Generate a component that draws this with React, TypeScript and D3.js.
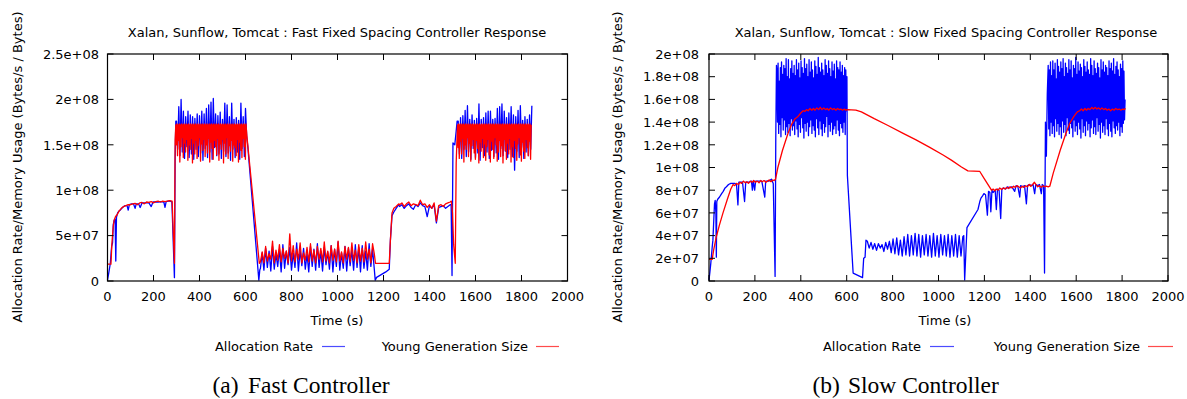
import React from 'react';
import * as d3 from 'd3';

type P = [number, number];

// regularly sampled segment: start time (s), sample interval (s), values (millions)
function seq(t0: number, dt: number, vals: number[]): P[] {
  return vals.map((v, i) => [t0 + i * dt, v] as P);
}

// ---------- axis ticks / labels ----------
const xTicks = [0, 200, 400, 600, 800, 1000, 1200, 1400, 1600, 1800, 2000];
const xTickLabels = ['0', '200', '400', '600', '800', '1000', '1200', '1400', '1600', '1800', '2000'];
const fastYTicks = [0, 50, 100, 150, 200, 250];
const fastYTickLabels = ['0', '5e+07', '1e+08', '1.5e+08', '2e+08', '2.5e+08'];
const slowYTicks = [0, 20, 40, 60, 80, 100, 120, 140, 160, 180, 200];
const slowYTickLabels = ['0', '2e+07', '4e+07', '6e+07', '8e+07', '1e+08', '1.2e+08', '1.4e+08', '1.6e+08', '1.8e+08', '2e+08'];

// ---------- FAST controller: allocation rate (millions of bytes/s) ----------
const fastAllocStart: P[] = [[0,1],[5,8],[12,19],[18,38],[22,42],[25,62],[29,67],[33,68],[36,22],[39,70],[44,75],[50,77],[55,78],[62,80],[70,82],[77,83],[85,83],[90,78],[95,84],[105,85],[113,85],[120,80],[125,85],[135,85],[142,81],[150,86],[160,86],[171,86],[180,86],[190,82],[198,87],[210,87],[220,87],[230,87.5],[245,87],[250,81],[255,87.5],[265,88],[273,88],[280,87],[291,3.7],[294,133],[297,176]];
const fastAllocHigh1 = seq(300, 5, [
  176,145,192,138,200,142,187,135,181,148,
  187,136,183,140,181,134,179,145,184,137,
  182,141,187,133,184,146,190,136,194,142,
  197,134,201,147,184,138,182,140,186,135,
  178,143,196,137,194,141,181,133,196,145,
  178,136,180,142,177,134,196,146,181,137,
  190,160]);
const fastAllocDrop: P[] = [[610,148],[658,1],[662,12]];
const fastAllocLow = seq(665, 7.5, [
  14,31,12,36,15,33,11,38,13,30,
  16,35,10,40,14,33,18,37,12,31,
  15,42,11,34,17,36,13,30,10,38,
  16,35,12,41,15,33,11,37,18,32,
  13,39,10,35,16,43,12,31,14,38,
  11,36,17,34,12,40,15,37,10,39,
  14,33,12,41,16,35,13]);
const fastAllocRise: P[] = [[1164,1],[1170,4],[1190,7],[1210,10],[1225,13],[1230,45],[1237,72],[1245,76],[1255,80],[1266,84]];
const fastAllocMid = seq(1270, 10, [82,84,80,83,85,81,79,84,82,86,83,82,71,83,80,84,64,81,82,83,80,82,84]);
const fastAllocJump: P[] = [[1494,84],[1498,6],[1502,152],[1510,150],[1516,165],[1520,176]];
const fastAllocHigh2 = seq(1525, 5, [
  176,140,180,135,182,145,188,137,193,142,
  178,134,183,146,177,136,179,141,195,133,
  178,147,180,138,185,142,187,135,187,144,
  178,137,179,141,190,134,192,146,195,138,
  187,143,180,136,185,145,192,137,183,122,
  181,143,188,136,193,147,177,135,181,142,
  178,138,183,145,193]);

// ---------- FAST controller: young generation size (millions of bytes) ----------
const fastYoungStart: P[] = [[0,18.5],[15,18.5],[19,41],[25,60],[29,67],[35,71],[42,73],[50,77],[60,80],[70,82],[80,83],[90,84],[100,84],[110,85],[120,85.5],[130,84],[140,86],[150,86.5],[160,85],[170,87],[180,86.5],[190,87.5],[200,86],[210,87.5],[220,88],[230,87],[240,88],[250,87.5],[260,88],[270,88.5],[281,88],[291,19.5],[294,155]];
const fastYoungHigh1 = seq(297, 2.5, [
  172,150,173,138,172,155,173,131,172,148,
  173,158,172,136,173,152,172,142,173,156,
  172,133,173,150,172,145,173,157,172,130,
  173,152,172,140,173,155,172,135,173,149,
  172,158,173,132,172,151,173,144,172,156,
  173,137,172,150,173,141,172,157,173,131,
  172,153,173,146,172,134,173,155,172,148,
  173,139,172,157,173,133,172,151,173,145,
  172,156,173,130,172,152,173,140,172,158,
  173,135,172,149,173,143,172,155,173,132,
  172,150,173,147,172,138,173,156,172,131,
  173,153,172,144,173,136,172,157,173,148,
  172,134,173]);
const fastYoungDrop: P[] = [[606,160],[660,19.5]];
const fastYoungLow = seq(665, 7.5, [
  21,32,20,38,22,30,24,44,20,34,
  23,40,21,36,25,33,20,52,22,39,
  21,35,24,42,20,31,23,37,21,41,
  22,34,20,38,24,36,21,43,22,33,
  20,39,23,35,21,44,22,32,20,38,
  24,37,21,42,23,34,20,40,22,36,
  21,43,24,35,20,41,30]);
const fastYoungRise: P[] = [[1165,19.5],[1225,19.5],[1230,45],[1237,75],[1245,80],[1255,82],[1266,85]];
const fastYoungMid = seq(1270, 10, [84,86,82,85,87,83,85,84,83,89,84,85,81,84,80,86,66,83,84,82,85,86,87]);
const fastYoungJump: P[] = [[1495,88],[1500,75],[1505,40],[1512,19.5],[1516,130],[1520,160]];
const fastYoungHigh2 = seq(1522, 2.5, [
  172,147,173,135,172,154,173,140,172,157,
  173,131,172,150,173,145,172,158,173,137,
  172,152,173,132,172,149,173,156,172,141,
  173,134,172,155,173,146,172,130,173,153,
  172,143,173,157,172,136,173,151,172,133,
  173,148,172,156,173,139,172,131,173,154,
  172,145,173,135,172,158,173,150,172,132,
  173,142,172,155,173,137,172,149,173,130,
  172,156,173,144,172,134,173,152,172,140,
  173,157,172,131,173,148,172,136,173,155,
  172,146,173,133,172,151,173,158,172,139,
  173,132,172,153,173,143,172,135,173,156,
  172,147,173,138,172,154,173,134,172]);

// ---------- SLOW controller: allocation rate ----------
const slowAllocStart: P[] = [[0,1],[4,8],[8,16],[14,30],[17,36],[20,50],[24,68],[27,71],[30,60],[32,21],[34,70],[38,72],[46,74],[55,77],[62,79],[70,82],[76,83],[85,85],[95,86],[105,86],[112,86],[120,85],[126,67],[130,87],[140,87],[146,87],[155,70],[160,87],[175,87],[185,88],[189,80],[193,88],[199,80],[203,88],[215,88],[230,88],[243,74],[247,88],[260,88],[272,89.7],[280,86],[288,4],[291,127],[294,190]];
const slowAllocHigh1 = seq(296, 2.5, [
  185,140,192,130,176,138,188,127,193,144,
  182,133,190,142,187,129,196,136,180,131,
  195,139,178,128,187,143,194,133,183,137,
  190,129,181,141,195,134,186,127,192,138,
  179,131,194,144,188,135,183,126,196,139,
  187,132,191,140,180,128,195,136,184,142,
  193,130,186,137,179,133,194,127,189,143,
  182,135,197,129,188,141,184,134,192,128,
  186,139,181,131,195,136,190,145,183,127,
  194,138,187,132,180,140,193,129,185,134,
  191,137,178,130,194,142,188,133,186,128,
  193,139,184,135,190,131,181,140,188,129,
  186,150,180]);
const slowAllocDrop: P[] = [[603,93],[628,7],[669,3],[674,20],[680,21],[684,36]];
const slowAllocLow = seq(690, 8, [
  35,29,34,28,33,27,33,29,32,26,
  34,28,35,25,37,24,38,23,36,22,
  39,23,41,22,40,23,42,22,41,21,
  40,23,41,22,40,21,42,22,40,21,
  41,23,40,22,41,21,40,22,41,21,
  40,22,39]);
const slowAllocMid: P[] = [[1110,40],[1114,1],[1124,47],[1172,63],[1180,70],[1185,73],[1192,75],[1198,77],[1205,76],[1213,58],[1218,79],[1224,78],[1228,61],[1233,80],[1238,78],[1242,79],[1247,80],[1252,63],[1257,81],[1264,80],[1271,55],[1276,81],[1285,82],[1292,81],[1300,83],[1310,82],[1320,83],[1332,79],[1338,84],[1346,83],[1354,74],[1358,84],[1366,83],[1375,84],[1383,68],[1388,84],[1396,85],[1405,84],[1412,85],[1419,77],[1424,85],[1432,84],[1440,85],[1448,77],[1452,85],[1458,84],[1462,7],[1466,140],[1470,110],[1474,165]];
const slowAllocHigh2 = seq(1478, 2.5, [
  190,134,186,128,193,140,181,130,194,137,
  186,127,192,143,178,132,195,139,189,129,
  184,136,193,126,187,141,196,131,180,138,
  192,128,188,144,183,133,195,130,186,139,
  194,135,179,127,190,142,187,132,197,137,
  182,129,193,140,185,134,191,126,188,143,
  180,131,195,137,189,128,184,141,193,133,
  186,139,182,127,196,135,190,142,181,130,
  194,136,187,129,183,144,192,132,188,138,
  179,126,195,140,186,131,193,137,184,129,
  190,143,188,134,181,128,194,139,187,132,
  192,127,185,141,196,135,182,130,189,137,
  193,133,186,140,180,
  128,191,136,187,131,194,139,185,142,160]);

// ---------- SLOW controller: young generation size ----------
const slowYoung: P[] = [[0,19],[14,19],[20,27],[32,39],[45,49],[61,60],[80,72],[95,81],[105,85],[112,84],[120,86],[128,85],[135,87],[142,86],[150,88],[158,86.5],[165,87.5],[172,86],[180,88],[188,87],[195,88.5],[202,87],[210,88],[218,86.5],[225,88.5],[232,87.5],[240,88.5],[248,87],[255,88],[262,89],[270,87.5],[278,89],[284,88.5],[290,89.7],[300,100],[320,115],[344,130],[360,138],[375,143],[388,145],[400,148],[410,150],[418,149.5],[425,151],[432,150],[440,152],[448,150.5],[455,152],[462,150.5],[470,152.5],[478,151],[485,153],[492,151],[500,152.5],[508,151],[515,152],[522,150.5],[530,152.5],[538,151],[545,152],[553,150.5],[560,152],[568,151],[575,151.5],[582,150.5],[590,151.5],[596,150.5],[602,151],[640,150.5],[664,149],[720,143],[780,137],[846,130],[900,124.5],[960,118],[1020,111],[1056,106.5],[1100,100.5],[1128,97],[1180,96.5],[1200,90],[1231,80],[1238,81],[1245,79.5],[1252,81],[1260,80],[1267,82],[1275,80.5],[1282,82],[1290,81],[1297,82.5],[1305,81.5],[1312,83],[1320,82],[1327,83.5],[1335,82.5],[1342,84],[1350,83],[1357,82],[1365,83.5],[1372,82.5],[1380,84],[1387,83],[1395,85],[1402,83.5],[1410,85],[1418,87],[1425,85],[1432,83],[1440,84],[1448,82.5],[1455,84],[1462,83],[1470,83.5],[1478,83],[1485,83.5],[1500,95],[1530,115],[1555,130],[1572,139],[1590,145],[1605,149],[1615,150],[1623,151.5],[1630,150],[1638,152],[1645,150.5],[1652,152],[1660,151],[1668,153],[1675,151.5],[1683,153],[1690,151.5],[1698,152.5],[1705,151],[1712,152.5],[1720,151],[1728,152],[1735,150.5],[1742,151.5],[1750,150],[1758,151.5],[1765,150.5],[1772,152],[1780,151],[1788,151.5],[1795,150.5],[1802,151.5],[1808,151],[1815,152]];

const fastAlloc: P[] = [...fastAllocStart, ...fastAllocHigh1, ...fastAllocDrop, ...fastAllocLow, ...fastAllocRise, ...fastAllocMid, ...fastAllocJump, ...fastAllocHigh2];
const fastYoung: P[] = [...fastYoungStart, ...fastYoungHigh1, ...fastYoungDrop, ...fastYoungLow, ...fastYoungRise, ...fastYoungMid, ...fastYoungJump, ...fastYoungHigh2];
const slowAlloc: P[] = [...slowAllocStart, ...slowAllocHigh1, ...slowAllocDrop, ...slowAllocLow, ...slowAllocMid, ...slowAllocHigh2];

const FONT = "'DejaVu Sans', Verdana, sans-serif";
const SERIF = "'Liberation Serif', 'Times New Roman', serif";
const TOP = 54;
const BOTTOM = 281;

interface PanelProps {
  x0: number; x1: number;
  yMax: number; yTicks: number[]; yTickLabels: string[];
  title: string; titleX: number; xLabelX: number;
  yLabelX: number; yLabelGap: number;
  alloc: P[]; young: P[];
  legA: number; legALine: [number, number];
  legY: number; legYLine: [number, number];
  capTag: string; capTagX: number; capText: string; capTextX: number;
}

function Panel(p: PanelProps) {
  const xs = d3.scaleLinear().domain([0, 2000]).range([p.x0, p.x1]);
  const ys = d3.scaleLinear().domain([0, p.yMax]).range([BOTTOM, TOP]);
  const line = d3.line<P>().x(d => xs(d[0])).y(d => ys(d[1]));
  const tl = 6;
  return (
    <g>
      <text x={p.titleX} y={36.5} textAnchor="middle" fontSize={13} fontFamily={FONT}>{p.title}</text>
      <path d={line(p.alloc) || ''} fill="none" stroke="#0000ff" strokeWidth={1.3} strokeLinejoin="round" />
      <path d={line(p.young) || ''} fill="none" stroke="#ff0000" strokeWidth={1.3} strokeLinejoin="round" />
      <rect x={p.x0} y={TOP} width={p.x1 - p.x0} height={BOTTOM - TOP} fill="none" stroke="#000" strokeWidth={1.2} />
      {xTicks.map((t, i) => (
        <g key={'x' + i}>
          <line x1={xs(t)} x2={xs(t)} y1={BOTTOM} y2={BOTTOM - tl} stroke="#000" strokeWidth={1} />
          <line x1={xs(t)} x2={xs(t)} y1={TOP} y2={TOP + tl} stroke="#000" strokeWidth={1} />
          <text x={xs(t)} y={301} textAnchor="middle" fontSize={13} fontFamily={FONT}>{xTickLabels[i]}</text>
        </g>
      ))}
      {p.yTicks.map((v, i) => (
        <g key={'y' + i}>
          <line x1={p.x0} x2={p.x0 + tl} y1={ys(v)} y2={ys(v)} stroke="#000" strokeWidth={1} />
          <line x1={p.x1} x2={p.x1 - tl} y1={ys(v)} y2={ys(v)} stroke="#000" strokeWidth={1} />
          <text x={p.x0 - p.yLabelGap} y={ys(v) + 4.7} textAnchor="end" fontSize={13} fontFamily={FONT}>{p.yTickLabels[i]}</text>
        </g>
      ))}
      <text x={p.xLabelX} y={324.5} textAnchor="middle" fontSize={13} fontFamily={FONT}>Time (s)</text>
      <text transform={`translate(${p.yLabelX},167) rotate(-90)`} textAnchor="middle" fontSize={13} fontFamily={FONT}>Allocation Rate/Memory Usage (Bytes/s / Bytes)</text>
      <text x={p.legA} y={351} textAnchor="end" fontSize={13} fontFamily={FONT}>Allocation Rate</text>
      <line x1={p.legALine[0]} x2={p.legALine[1]} y1={346.5} y2={346.5} stroke="#0000ff" strokeWidth={1.2} opacity={0.7} />
      <text x={p.legY} y={351} textAnchor="end" fontSize={13} fontFamily={FONT}>Young Generation Size</text>
      <line x1={p.legYLine[0]} x2={p.legYLine[1]} y1={346.5} y2={346.5} stroke="#ff0000" strokeWidth={1.2} opacity={0.7} />
      <text x={p.capTagX} y={393} fontSize={23.5} fontFamily={SERIF}>{p.capTag}</text>
      <text x={p.capTextX} y={393} fontSize={23.5} fontFamily={SERIF}>{p.capText}</text>
    </g>
  );
}

export default function App() {
  return (
    <svg width={1187} height={399} style={{ position: 'absolute', left: 0, top: 0, background: '#fff' }}>
      <Panel x0={107.5} x1={567.5} yMax={250} yTicks={fastYTicks} yTickLabels={fastYTickLabels}
        title="Xalan, Sunflow, Tomcat : Fast Fixed Spacing Controller Response" titleX={337} xLabelX={337}
        yLabelX={21.5} yLabelGap={8.5} alloc={fastAlloc} young={fastYoung}
        legA={313} legALine={[322, 345]} legY={528} legYLine={[536, 559]}
        capTag="(a)" capTagX={212.5} capText="Fast Controller" capTextX={248} />
      <Panel x0={709} x1={1168} yMax={200} yTicks={slowYTicks} yTickLabels={slowYTickLabels}
        title="Xalan, Sunflow, Tomcat : Slow Fixed Spacing Controller Response" titleX={946} xLabelX={945}
        yLabelX={621.5} yLabelGap={10} alloc={slowAlloc} young={slowYoung}
        legA={921} legALine={[930, 954]} legY={1140} legYLine={[1148, 1173]}
        capTag="(b)" capTagX={812.5} capText="Slow Controller" capTextX={848} />
    </svg>
  );
}
